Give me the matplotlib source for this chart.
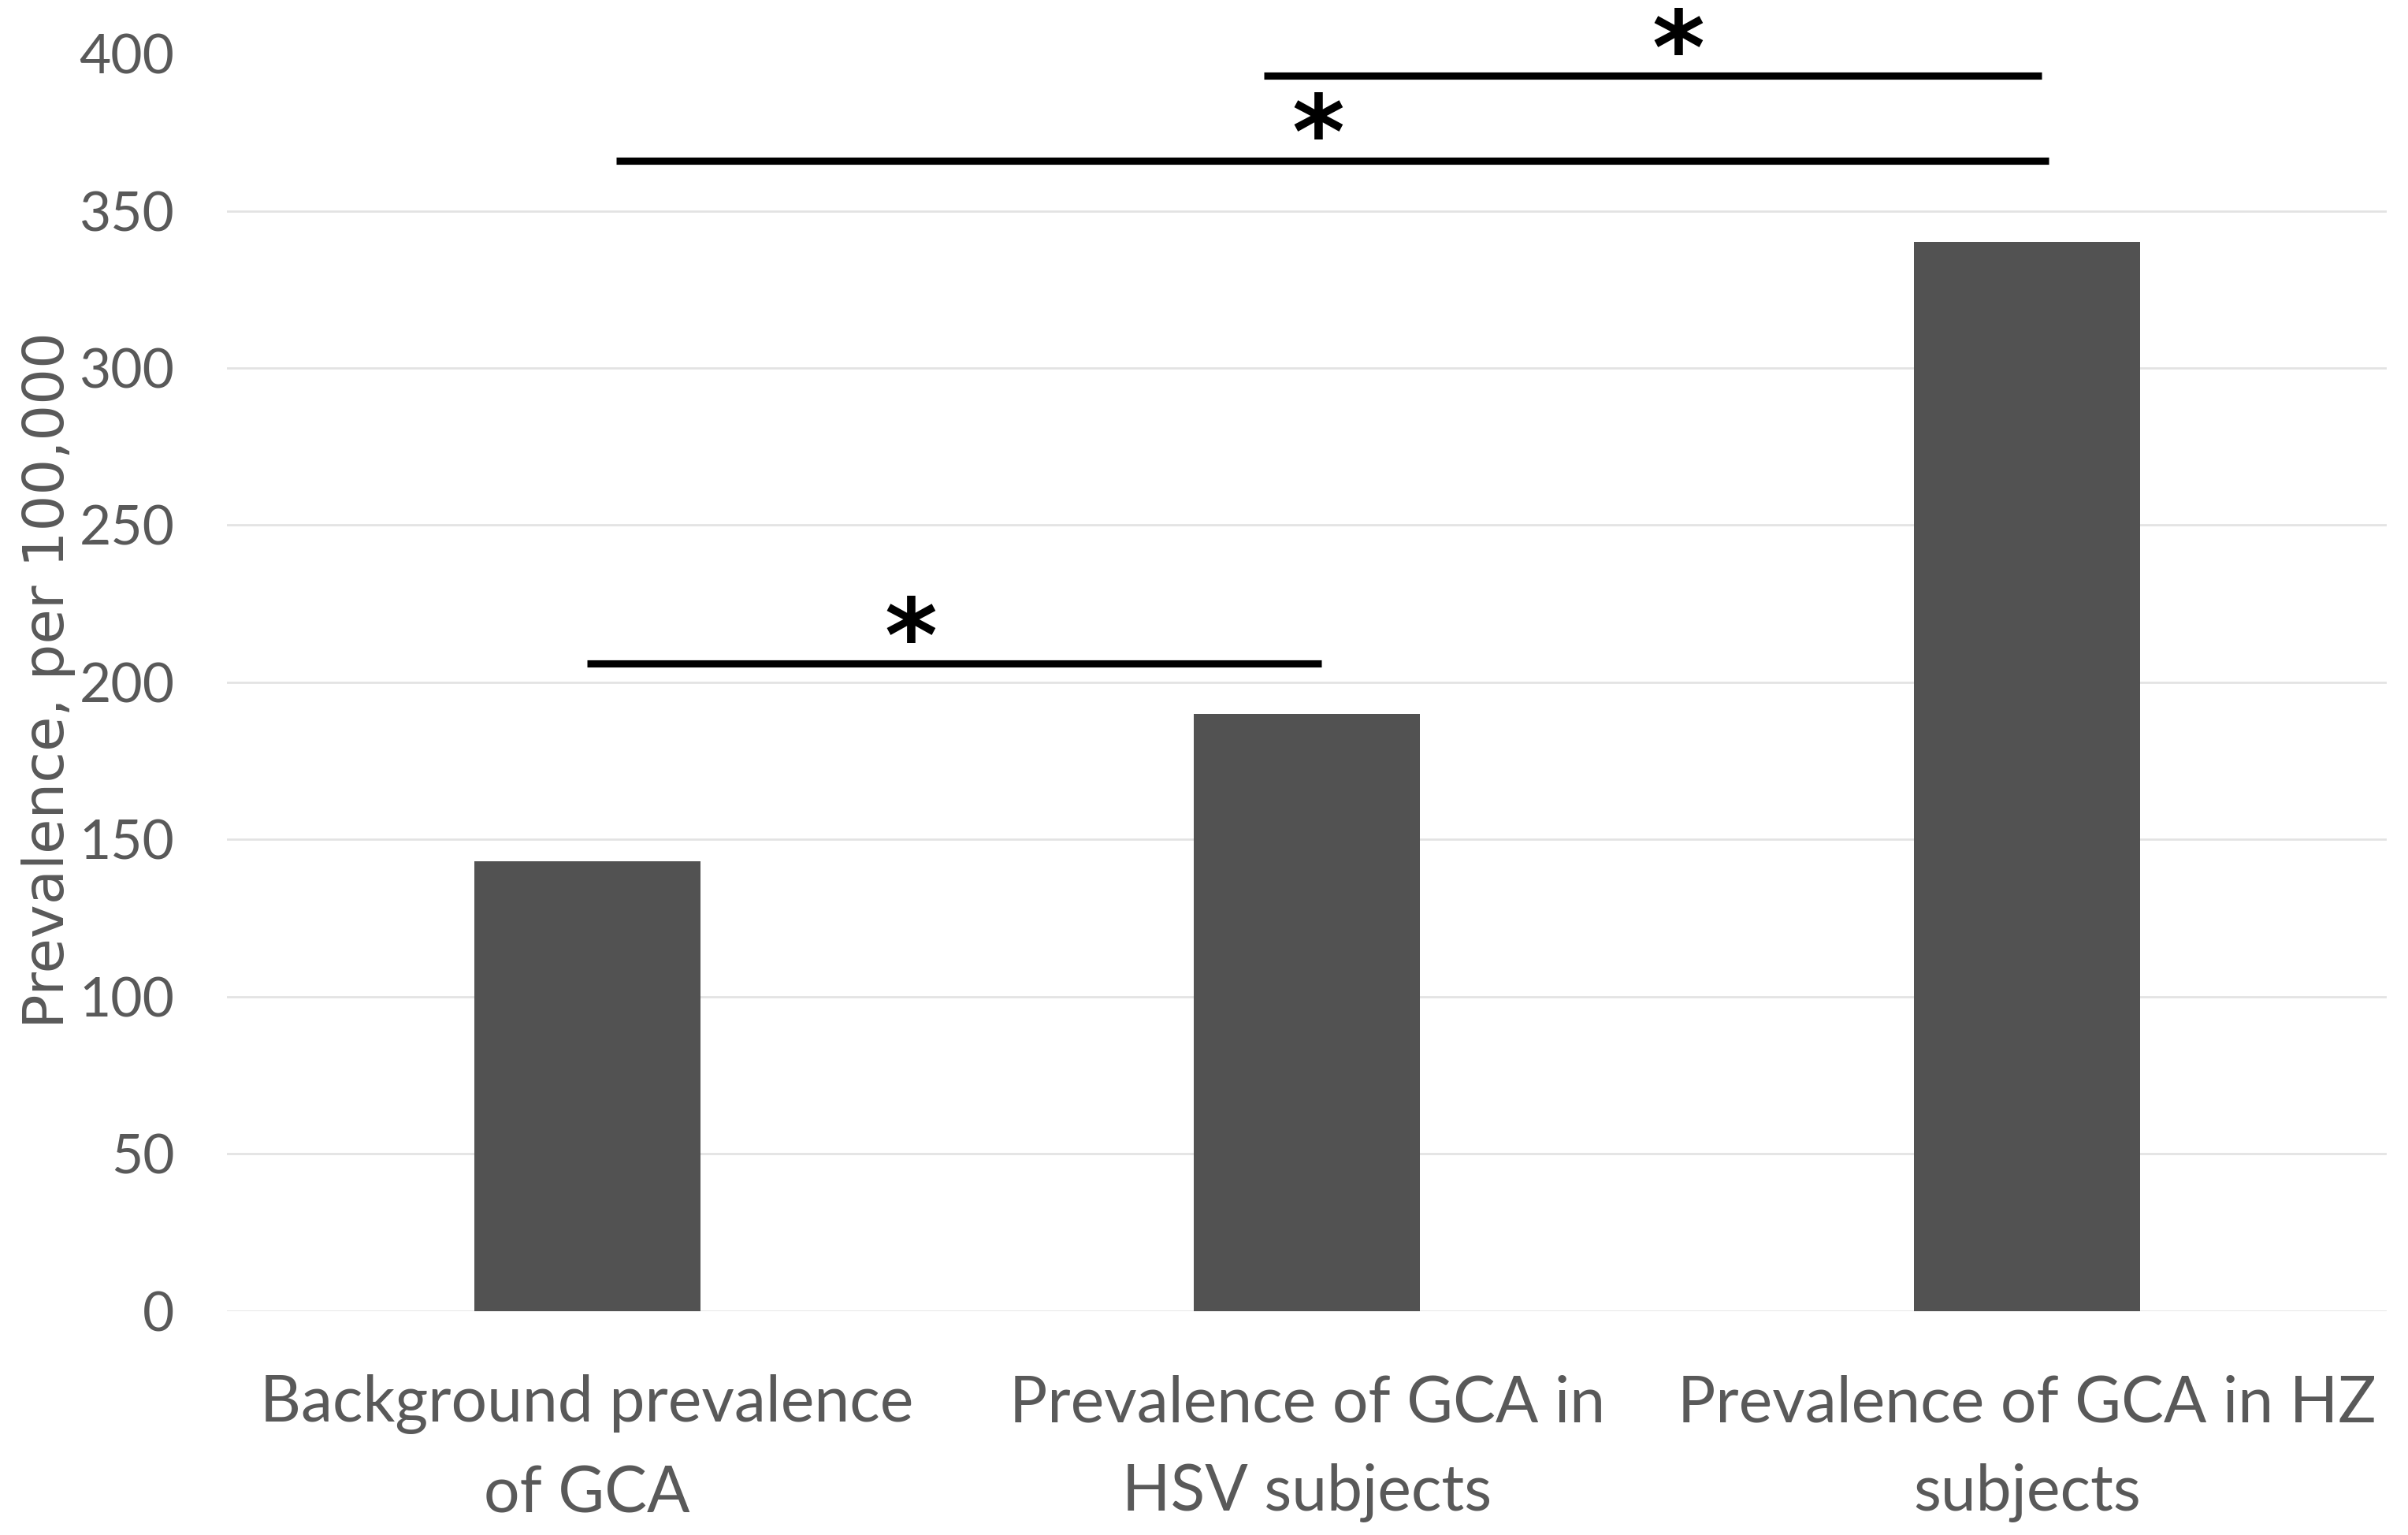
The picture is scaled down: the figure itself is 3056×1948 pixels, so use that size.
import matplotlib.pyplot as plt

# data
categories = ["Background prevalence\nof GCA",
              "Prevalence of GCA in\nHSV subjects",
              "Prevalence of GCA in HZ\nsubjects"]
prevalence = [143, 190, 340]

# significance brackets: (x start, x end, height)
sig_x0 = [0.0, 0.04, 0.94]
sig_x1 = [1.02, 2.03, 2.02]
sig_y = [206, 366, 393]
sig_star_x = [0.45, 1.015, 1.516]

yticks = [0, 50, 100, 150, 200, 250, 300, 350, 400]

text_color = "#595959"
bar_color = "#525252"
label_font = "Lato"

fig = plt.figure(figsize=(15.28, 9.74), dpi=200)
ax = fig.add_axes([0.0943, 0.146, 0.897, 0.819])

x = range(len(categories))
ax.bar(x, prevalence, width=0.314, color=bar_color, zorder=3)

for x0, x1, y, sx in zip(sig_x0, sig_x1, sig_y, sig_star_x):
    ax.plot([x0, x1], [y, y], color="black", linewidth=3.3,
            solid_capstyle="butt", clip_on=False, zorder=4)
    ax.text(sx, y + 6.5, "*", ha="center", va="center", fontsize=46,
            fontweight="bold", family="DejaVu Sans", color="black",
            clip_on=False)

ax.set_xlim(-0.5, 2.5)
ax.set_ylim(0, 400)
ax.set_yticks(yticks)
ax.set_xticks(list(x))
ax.set_xticklabels(categories, fontsize=29, family=label_font,
                   color=text_color, linespacing=1.65)
ax.set_yticklabels([str(v) for v in yticks], fontsize=25, family=label_font,
                   color=text_color)
ax.tick_params(axis="both", length=0)
ax.tick_params(axis="y", pad=24)
ax.tick_params(axis="x", pad=29)

for spine in ax.spines.values():
    spine.set_visible(False)
ax.yaxis.grid(True, color="#E3E3E3", linewidth=1.0, zorder=0)
ax.set_axisbelow(True)
# no gridline drawn at the top of the axis
ax.get_ygridlines()[-1].set_visible(False)

fig.text(0.02, 0.557, "Prevalence, per 100,000", rotation=90,
         ha="center", va="center", fontsize=26, family="DejaVu Sans",
         color=text_color)

fig.savefig("out.png", dpi=200, facecolor="white")
